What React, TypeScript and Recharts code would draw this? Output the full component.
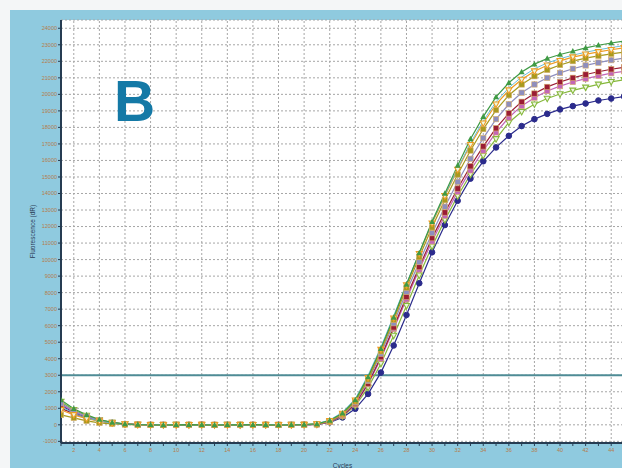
import React from "react";
import {
  LineChart,
  Line,
  XAxis,
  YAxis,
  CartesianGrid,
  ReferenceLine,
} from "recharts";

// cycle numbers on the x axis
const cycles = [
  1, 2, 3, 4, 5, 6, 7, 8, 9, 10, 11, 12, 13, 14, 15, 16, 17, 18, 19, 20, 21, 22,
  23, 24, 25, 26, 27, 28, 29, 30, 31, 32, 33, 34, 35, 36, 37, 38, 39, 40, 41, 42,
  43, 44, 45,
];
const xLabelTicks = [2, 4, 6, 8, 10, 12, 14, 16, 18, 20, 22, 24, 26, 28, 30, 32, 34, 36, 38, 40, 42, 44];
const yTicks = [
  -1000, 0, 1000, 2000, 3000, 4000, 5000, 6000, 7000, 8000, 9000, 10000, 11000,
  12000, 13000, 14000, 15000, 16000, 17000, 18000, 19000, 20000, 21000, 22000,
  23000, 24000,
];
const threshold = 3000;

// fluorescence (dR) per well
const green = [1500, 970, 600, 320, 150, 60, 20, 0, -10, 0, 10, 0, -10, 0, 0, 10, 0, -10, 0, 20, 60, 260, 700, 1500, 2900, 4600, 6500, 8500, 10400, 12300, 14000, 15700, 17300, 18650, 19850, 20700, 21350, 21830, 22170, 22410, 22610, 22810, 22970, 23110, 23230];
const cyan = [1100, 700, 420, 230, 100, 30, 10, 0, 0, 0, -10, 0, 10, 0, 0, -10, 0, 10, 0, 0, 70, 290, 760, 1580, 3000, 4700, 6600, 8550, 10400, 12250, 13900, 15500, 17050, 18400, 19550, 20400, 21050, 21550, 21900, 22160, 22370, 22550, 22700, 22830, 22950];
const orange = [900, 600, 380, 220, 110, 40, 10, 0, 0, -10, 0, 10, 0, -10, 0, 0, 10, 0, -10, 10, 50, 240, 680, 1480, 2850, 4550, 6450, 8450, 10350, 12200, 13850, 15450, 16950, 18250, 19400, 20250, 20900, 21400, 21760, 22030, 22250, 22420, 22570, 22700, 22810];
const olive = [600, 420, 240, 120, 60, 20, 0, -10, 0, 0, 10, 0, -10, 0, 10, 0, 0, -10, 0, 10, 40, 220, 640, 1420, 2750, 4450, 6350, 8300, 10150, 11950, 13600, 15150, 16600, 17900, 19050, 19950, 20600, 21100, 21480, 21780, 22010, 22190, 22330, 22450, 22560];
const lavender = [1300, 850, 500, 280, 130, 50, 20, 0, 10, 0, -10, 0, 0, 10, 0, -10, 0, 0, 10, 0, 40, 210, 610, 1350, 2650, 4300, 6150, 8050, 9850, 11600, 13200, 14700, 16100, 17350, 18500, 19400, 20100, 20600, 21000, 21300, 21550, 21750, 21920, 22070, 22190];
const maroon = [1000, 680, 420, 230, 110, 40, 10, 0, 0, 10, 0, -10, 0, 0, 10, 0, -10, 0, 0, 10, 30, 190, 570, 1270, 2500, 4100, 5900, 7750, 9550, 11300, 12850, 14300, 15650, 16850, 17950, 18850, 19550, 20050, 20450, 20750, 21000, 21200, 21370, 21520, 21640];
const pink = [1250, 800, 480, 260, 120, 40, 10, 0, -10, 0, 0, 10, 0, -10, 0, 10, 0, 0, -10, 0, 30, 180, 550, 1230, 2450, 4000, 5800, 7600, 9400, 11100, 12650, 14100, 15400, 16600, 17700, 18600, 19300, 19800, 20200, 20500, 20750, 20950, 21120, 21280, 21400];
const lime = [1400, 900, 560, 300, 140, 50, 20, 0, 0, 10, 0, -10, 0, 10, 0, 0, -10, 0, 10, 0, 30, 170, 520, 1150, 2250, 3700, 5400, 7200, 9050, 10800, 12400, 13850, 15150, 16300, 17300, 18300, 18950, 19400, 19750, 20020, 20240, 20420, 20600, 20760, 20880];
const navy = [1200, 750, 450, 250, 120, 50, 20, 0, 0, -10, 0, 10, 0, 0, -10, 0, 10, 0, 0, 10, 30, 150, 450, 970, 1870, 3160, 4800, 6650, 8570, 10440, 12090, 13560, 14900, 15950, 16790, 17490, 18080, 18500, 18820, 19090, 19290, 19450, 19630, 19750, 19870];

const series = [
  { key: "navy", values: navy, color: "#2b2b8c", shape: "circle" },
  { key: "lime", values: lime, color: "#86b83c", shape: "down" },
  { key: "pink", values: pink, color: "#c366b8", shape: "square" },
  { key: "maroon", values: maroon, color: "#9a1c34", shape: "square" },
  { key: "lavender", values: lavender, color: "#8e8ebe", shape: "square" },
  { key: "olive", values: olive, color: "#a89a1e", shape: "square" },
  { key: "orange", values: orange, color: "#ee9c22", shape: "down" },
  { key: "cyan", values: cyan, color: "#58b6d6", shape: "none" },
  { key: "green", values: green, color: "#3f9a44", shape: "up" },
];

const data = cycles.map((c, i) => {
  const row: Record<string, number> = { cycle: c };
  series.forEach((s) => {
    row[s.key] = s.values[i];
  });
  return row;
});

const tickFont = { fontSize: 5.5, fill: "#b57d4c", fontFamily: "Liberation Sans, Arial, sans-serif" };
const gridColor = "#a6a6a6";

function makeDot(shape: string, color: string, name: string) {
  return (props: any) => {
    const { cx, cy, index } = props;
    const k = `${name}-${index}`;
    if (shape === "none" || cx == null || cy == null) return <g key={k} />;
    if (shape === "circle")
      return <circle key={k} cx={cx} cy={cy} r={2.8} fill={color} stroke={color} />;
    if (shape === "square")
      return <rect key={k} x={cx - 2.7} y={cy - 2.7} width={5.4} height={5.4} fill={color} stroke="#d8b070" strokeWidth={0.6} />;
    if (shape === "up")
      return <path key={k} d={`M${cx},${cy - 3.2}L${cx + 3},${cy + 2.3}L${cx - 3},${cy + 2.3}Z`} fill={color} />;
    return <path key={k} d={`M${cx},${cy + 3.2}L${cx + 3},${cy - 2.3}L${cx - 3},${cy - 2.3}Z`} fill="#eef6e0" stroke={color} strokeWidth={1.1} />;
  };
}

export default function App() {
  return (
    <div
      style={{
        position: "absolute",
        left: 0,
        top: 0,
        width: 622,
        height: 468,
        overflow: "hidden",
        background: "#f4f6f7",
        fontFamily: "Liberation Sans, Arial, sans-serif",
      }}
    >
      <div
        style={{
          position: "absolute",
          left: 10,
          top: 10,
          width: 640,
          height: 470,
          background: "#8fcadf",
        }}
      />
      <div style={{ position: "absolute", left: 0, top: 0 }}>
        <LineChart
          width={640}
          height={468}
          data={data}
          margin={{ top: 20, right: 16, bottom: 0, left: 0 }}
        >
          <CartesianGrid
            vertical={false}
            stroke={gridColor}
            strokeDasharray="2 2"
            fill="#ffffff"
            fillOpacity={1}
          />
          {xLabelTicks.map((t) => (
            <ReferenceLine key={`v${t}`} x={t} stroke={gridColor} strokeDasharray="2 2" />
          ))}
          <XAxis
            dataKey="cycle"
            type="number"
            domain={[1, 45]}
            ticks={cycles}
            interval={0}
            tickFormatter={(v) => (v % 2 === 0 ? String(v) : "")}
            height={25}
            tickSize={3}
            tickMargin={2}
            tick={tickFont}
            axisLine={{ stroke: "#263c52", strokeWidth: 2 }}
            tickLine={{ stroke: "#263c52" }}
            allowDataOverflow
            label={{
              value: "Cycles",
              position: "insideBottom",
              offset: 0,
              fontSize: 6.5,
              fill: "#2a3a55",
            }}
          />
          <YAxis
            type="number"
            domain={[-1100, 24500]}
            ticks={yTicks}
            interval={0}
            width={61}
            tickSize={3}
            tickMargin={1}
            tick={tickFont}
            axisLine={{ stroke: "#263c52", strokeWidth: 2 }}
            tickLine={{ stroke: "#263c52" }}
            allowDataOverflow
            label={{
              value: "Fluorescence (dR)",
              angle: -90,
              position: "center",
              dx: 2,
              fontSize: 6.5,
              fill: "#2a3a55",
            }}
          />
          <ReferenceLine y={threshold} stroke="#4f8c96" strokeWidth={2} />
          {series.map((s) => (
            <Line
              key={s.key}
              dataKey={s.key}
              type="linear"
              stroke={s.color}
              strokeWidth={s.shape === "none" ? 0.9 : 1.2}
              dot={makeDot(s.shape, s.color, s.key)}
              activeDot={false}
              isAnimationActive={false}
            />
          ))}
        </LineChart>
      </div>
      <div
        style={{
          position: "absolute",
          left: 114,
          top: 73,
          fontSize: 57,
          lineHeight: 1,
          fontWeight: 700,
          color: "#1479a6",
          fontFamily: "Liberation Sans, Arial, sans-serif",
        }}
      >
        B
      </div>
    </div>
  );
}
